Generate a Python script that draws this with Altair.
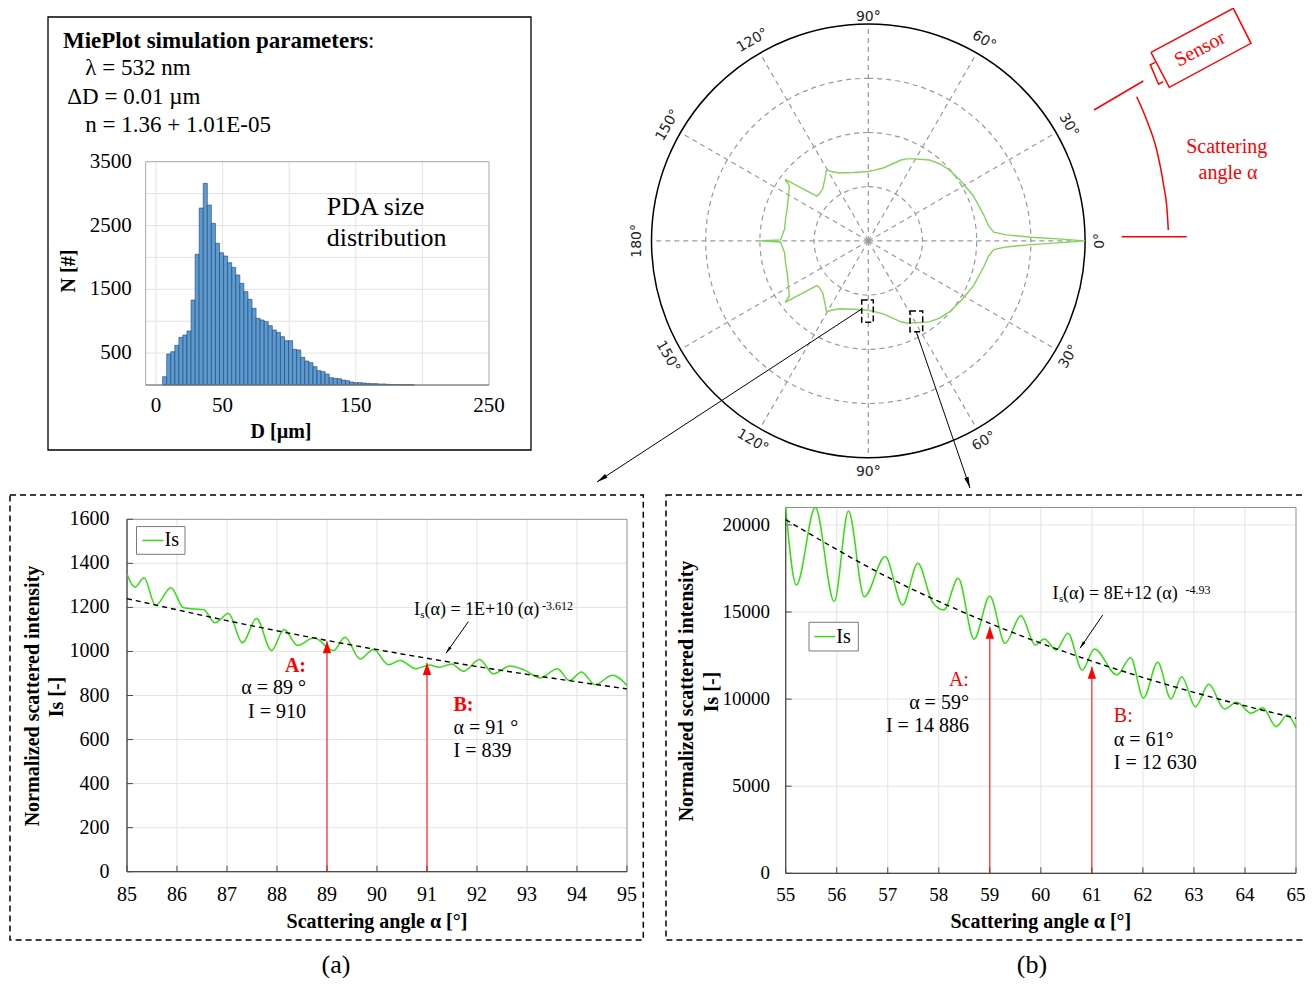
import math
import altair as alt
import pandas as pd

# ------------------------------------------------------------------ data
# PDA size distribution (counts per bin)
hist_counts = [130, 486, 522, 622, 747, 784, 846, 1332, 2048, 2774, 3161, 2821,
               2534, 2221, 2074, 2022, 1917, 1844, 1724, 1594, 1463, 1343, 1202,
               1045, 1019, 993, 930, 862, 825, 758, 695, 695, 559, 549, 434, 376,
               350, 287, 225, 209, 172, 115, 104, 99, 78, 68, 47, 37, 37, 31, 26,
               21, 21, 16, 16, 10, 8, 6, 5, 4, 3, 2]
hist_first_edge = 5.0
hist_bin_width = 3.05
hist_ygrid = [500, 1000, 1500, 2000, 2500, 3000]
hist_ylabels = [500, 1500, 2500, 3500]
hist_xgrid = [0, 50, 100, 150, 200]
hist_xlabels = [0, 50, 150, 250]

# polar scattering diagram, upper half (angle in deg, radius in ring units)
polar_angle = [0, 0.6, 1.3, 2.5, 4, 7, 13, 23, 32, 41, 47, 53, 61, 65, 68, 78, 85,
               90, 102, 113, 118, 120.5, 124, 131, 136, 139, 143.5, 145, 150, 157,
               165, 172, 179.3, 180]
polar_r = [4.0, 3.5, 3.0, 2.55, 2.32, 2.24, 2.18, 2.11, 2.04, 1.99, 1.94, 1.87,
           1.73, 1.67, 1.61, 1.38, 1.31, 1.28, 1.29, 1.36, 1.45, 1.52, 1.42, 1.28,
           1.25, 1.26, 1.91, 1.78, 1.70, 1.62, 1.58, 1.56, 1.62, 2.0]
polar_rings = [1, 2, 3]
polar_spokes = [0, 30, 60, 90, 120, 150, 180, 210, 240, 270, 300, 330]
polar_label_angle = [0, 30, 60, 90, 120, 150, 180, -150, -120, -90, -60, -30]
polar_label_text = ["0°", "30°", "60°", "90°", "120°", "150°", "180°",
                    "150°", "120°", "90°", "60°", "30°"]

# panel (a): 85..95 deg
a_alpha = [85.00, 85.16, 85.34, 85.57, 85.88, 86.13, 86.35, 86.53, 86.76, 87.03,
           87.31, 87.59, 87.89, 88.14, 88.41, 88.74, 89.13, 89.36, 89.66, 89.93,
           90.23, 90.46, 90.78, 91.05, 91.25, 91.49, 91.73, 92.05, 92.33, 92.66,
           92.95, 93.26, 93.61, 93.85, 94.09, 94.36, 94.71, 95.00]
a_Is = [1350, 1292, 1335, 1209, 1289, 1198, 1193, 1190, 1130, 1172, 1039, 1150,
        1004, 1100, 1027, 1062, 1004, 1065, 966, 1009, 940, 959, 922, 938, 928,
        943, 910, 963, 898, 934, 915, 880, 922, 868, 907, 849, 892, 846]
a_fit_alpha = [85, 87, 89, 91, 93, 95]
a_fit_Is = [1240, 1140, 1050, 969, 896, 830]
a_points = [89, 91]
a_point_tip = [1046, 948]

# panel (b): 55..65 deg
b_alpha = [55.00, 55.21, 55.58, 55.95, 56.23, 56.54, 56.95, 57.29, 57.59, 57.87,
           58.10, 58.38, 58.69, 59.00, 59.30, 59.61, 59.89, 60.07, 60.30, 60.53,
           60.81, 61.05, 61.49, 61.76, 62.01, 62.29, 62.55, 62.76, 63.03, 63.29,
           63.60, 63.84, 64.12, 64.35, 64.61, 64.83, 65.00]
b_Is = [21000, 16550, 21600, 15600, 20800, 15880, 18180, 15400, 17800, 15600,
        15120, 16940, 13440, 15900, 13200, 14790, 13110, 13450, 12820, 13780,
        11670, 12880, 11390, 12380, 10050, 12120, 10010, 11290, 9565, 10850,
        9430, 9820, 9190, 9510, 8420, 9090, 8360]
b_fit_alpha = [55, 57, 59, 61, 63, 65]
b_fit_Is = [20300, 17000, 14350, 12180, 10390, 8900]
b_points = [59, 61]
b_point_tip = [14160, 11862]

# ------------------------------------------------------------------ helpers
SERIF = "Liberation Serif"
SANS = "DejaVu Sans"
GRID = "#e3e3e3"
RED = "#ff0000"
GREEN = "#33dd11"
PGREEN = "#84d25a"
AXC = "#4a4a4a"
OFF = 8
W, H = 1297, 970


def S(domain, rng, clamp=False):
    kw = dict(domain=domain, range=rng, nice=False, zero=False)
    if clamp:
        kw["clamp"] = True
    return alt.Scale(**kw)


FR = {
    "page": ([0, 1313], [-OFF, 1313 - OFF], [0, 986], [-OFF, 986 - OFF]),
    "hist": ([-7.7, 250], [145.7 - OFF, 489 - OFF], [0, 3500], [385 - OFF, 161.7 - OFF]),
    "pa": ([85, 95], [127 - OFF, 627 - OFF], [0, 1600], [871.7 - OFF, 519.3 - OFF]),
    "pb": ([55, 65], [785.7 - OFF, 1296 - OFF], [0, 21000], [873.3 - OFF, 507.5 - OFF]),
    "polar": ([-4, 4], [651.5 - OFF, 1085.1 - OFF], [-4, 4], [457.7 - OFF, 24.1 - OFF]),
}


def enc(fr, x="x", y="y", x2=None, y2=None, clamp=False):
    xd, xr, yd, yr = FR[fr]
    e = {"x": alt.X(f"{x}:Q", scale=S(xd, xr), axis=None),
         "y": alt.Y(f"{y}:Q", scale=S(yd, yr, clamp), axis=None)}
    if x2:
        e["x2"] = alt.X2(f"{x2}:Q")
    if y2:
        e["y2"] = alt.Y2(f"{y2}:Q")
    return e


def txt(fr, xs, ys, ts, **mk):
    d = pd.DataFrame({"x": xs, "y": ys, "t": ts})
    mk.setdefault("baseline", "middle")
    return alt.Chart(d).mark_text(**mk).encode(text="t:N", **enc(fr))


def box(fr, x, y, x2, y2, **mk):
    d = pd.DataFrame([dict(x=x, y=y, x2=x2, y2=y2)])
    return alt.Chart(d).mark_rect(**mk).encode(**enc(fr, x2="x2", y2="y2"))


def segs(fr, rows, **mk):
    d = pd.DataFrame(rows, columns=["x", "y", "x2", "y2"])
    return alt.Chart(d).mark_rule(**mk).encode(**enc(fr, x2="x2", y2="y2"))


HEAD = "M0,0L0.45,2.2L-0.45,2.2Z"
TRI = "M0,0L0.7,2L-0.7,2Z"


def arrow(x0, y0, x1, y1, size, color="black", width=1.0):
    rot = (math.degrees(math.atan2(x1 - x0, -(y1 - y0))) + 360) % 360
    line = segs("page", [(x0, y0, x1, y1)], color=color, strokeWidth=width)
    d = pd.DataFrame([dict(x=x1, y=y1, rot=rot)])
    head = alt.Chart(d).mark_point(shape=HEAD, filled=True, color=color, size=size,
                                   opacity=1).encode(
        angle=alt.Angle("rot:Q", scale=None), **enc("page"))
    return [line, head]


L = []

# ------------------------------------------------------------------ top-left box
L.append(box("page", 48, 17, 531, 450, fillOpacity=0, stroke="black", strokeWidth=1.3))
L.append(txt("page", [63], [47.7], ["MiePlot simulation parameters"], align="left",
             baseline="alphabetic", font=SERIF, fontSize=23, fontWeight="bold"))
L.append(txt("page", [368, 85.3, 67.3, 85.3], [47.7, 75.3, 104.3, 132],
             [":", "λ = 532 nm", "ΔD = 0.01 µm", "n = 1.36 + 1.01E-05"],
             align="left", baseline="alphabetic", font=SERIF, fontSize=23))

# histogram
hx0, hx1 = FR["hist"][0]
L.append(segs("hist", [(hx0, v, hx1, v) for v in hist_ygrid], color=GRID, strokeWidth=1))
L.append(segs("hist", [(v, 0, v, 3500) for v in hist_xgrid], color=GRID, strokeWidth=1))
L.append(box("hist", hx0, 0, hx1, 3500, fillOpacity=0, stroke="#a8a8a8", strokeWidth=1))
bars = pd.DataFrame({
    "x": [hist_first_edge + i * hist_bin_width for i in range(len(hist_counts))],
    "x2": [hist_first_edge + (i + 1) * hist_bin_width for i in range(len(hist_counts))],
    "y": [0] * len(hist_counts),
    "y2": hist_counts,
})
L.append(alt.Chart(bars).mark_rect(fill="#5b9bd5", stroke="#23415c", strokeWidth=0.6)
         .encode(**enc("hist", x2="x2", y2="y2")))
L.append(segs("hist", [(hx0, 0, hx1, 0)], color="#777777", strokeWidth=1))
L.append(txt("hist", [hx0] * 4, hist_ylabels, [str(v) for v in hist_ylabels],
             align="right", dx=-14, font=SERIF, fontSize=21))
L.append(txt("hist", hist_xlabels, [0] * 4, [str(v) for v in hist_xlabels],
             align="center", dy=21, font=SERIF, fontSize=21))
L.append(txt("page", [69], [271], ["N [#]"], align="center", angle=270, font=SERIF,
             fontSize=20, fontWeight="bold"))
L.append(txt("page", [281], [432], ["D [µm]"], align="center", font=SERIF,
             fontSize=20, fontWeight="bold"))
L.append(txt("page", [326.7, 326.7], [206.7, 238.3], ["PDA size", "distribution"],
             align="left", font=SERIF, fontSize=26))

# ------------------------------------------------------------------ polar diagram
rscale = alt.Scale(type="linear", domain=[0, 4], range=[0, 216.8], zero=True, nice=False)
rings = pd.DataFrame({"cx": [0] * 3, "cy": [0] * 3, "r": polar_rings})
L.append(alt.Chart(rings).mark_arc(theta=0, theta2=2 * math.pi + 0.01, fillOpacity=0,
                                   stroke="#9a9a9a", strokeWidth=1.2, strokeDash=[5, 4])
         .encode(radius=alt.Radius("r:Q", scale=rscale, stack=None),
                 **enc("polar", "cx", "cy")))
spk = pd.DataFrame({"a": polar_spokes})
L.append(alt.Chart(spk).transform_calculate(
    x0="0", y0="0", x1="4*cos(datum.a*PI/180)", y1="4*sin(datum.a*PI/180)")
    .mark_rule(color="#9a9a9a", strokeWidth=1.2, strokeDash=[5, 4])
    .encode(**enc("polar", "x0", "y0", x2="x1", y2="y1")))
outer = pd.DataFrame({"cx": [0], "cy": [0], "r": [4]})
L.append(alt.Chart(outer).mark_arc(theta=0, theta2=2 * math.pi + 0.01, fillOpacity=0,
                                   stroke="black", strokeWidth=1.5)
         .encode(radius=alt.Radius("r:Q", scale=rscale, stack=None),
                 **enc("polar", "cx", "cy")))
n = len(polar_angle)
curve_rows = [(i, a, r) for i, (a, r) in enumerate(zip(polar_angle, polar_r))]
curve_rows += [(n + i, -a, r) for i, (a, r) in
               enumerate(zip(polar_angle[::-1], polar_r[::-1]))]
pc = pd.DataFrame(curve_rows, columns=["i", "a", "r"])
L.append(alt.Chart(pc).transform_calculate(
    px="datum.r*cos(datum.a*PI/180)", py="datum.r*sin(datum.a*PI/180)")
    .mark_line(color=PGREEN, strokeWidth=1.4)
    .encode(order="i:Q", **enc("polar", "px", "py")))
pl = pd.DataFrame({"a": polar_label_angle, "t": polar_label_text})
L.append(alt.Chart(pl).transform_calculate(
    lr="datum.a == 90 ? 4.14 : 4.27",
    lx="datum.lr*cos(datum.a*PI/180)", ly="datum.lr*sin(datum.a*PI/180)",
    rot="((datum.a > 0 ? 90 - datum.a : -90 - datum.a) + 360) % 360")
    .mark_text(font=SANS, fontSize=14, color="#222222", align="center", baseline="middle")
    .encode(text="t:N", angle=alt.Angle("rot:Q", scale=None), **enc("polar", "lx", "ly")))
# zoom boxes on the curve
L.append(box("page", 861.7, 300, 873.3, 322.3, fillOpacity=0, stroke="black",
             strokeWidth=1.5, strokeDash=[6, 3]))
L.append(box("page", 910, 311, 922.7, 331.7, fillOpacity=0, stroke="black",
             strokeWidth=1.5, strokeDash=[6, 3]))
L += arrow(861.7, 309, 597, 482, 100)
L += arrow(916, 331, 970, 488, 100)

# sensor sketch
sens = pd.DataFrame(
    [("a", 0, 1151, 52.3), ("a", 1, 1233.3, 8.3), ("a", 2, 1251, 43.3),
     ("a", 3, 1169.3, 87.3), ("a", 4, 1151, 52.3),
     ("b", 0, 1155, 62.3), ("b", 1, 1150.3, 64.8), ("b", 2, 1158.6, 84.2),
     ("b", 3, 1163.3, 81.7),
     ("c", 0, 1094, 110), ("c", 1, 1143.3, 81),
     ("d", 0, 1121.7, 236.7), ("d", 1, 1186.7, 236.7)],
    columns=["g", "o", "x", "y"])
L.append(alt.Chart(sens).mark_line(color=RED, strokeWidth=1.5)
         .encode(detail="g:N", order="o:Q", **enc("page")))
arcp = pd.DataFrame({"x": [1136.7, 1146.7, 1156.7, 1163.3, 1167.3, 1168.3],
                     "y": [96.7, 120, 150, 183.3, 213.3, 230]})
L.append(alt.Chart(arcp).mark_line(color=RED, strokeWidth=1.5, interpolate="monotone")
         .encode(**enc("page")))
L.append(txt("page", [1200], [49], ["Sensor"], align="center", angle=332, font=SERIF,
             fontSize=20, color=RED))
L.append(txt("page", [1226.7, 1228], [147, 173.3], ["Scattering", "angle α"],
             align="center", font=SERIF, fontSize=20, color=RED))


# ------------------------------------------------------------------ panels
def panel(fr, xlo, xhi, ytop, ygrid, yvals, lab_size, xlab_dy, ylab_dx,
          c_x, c_y, f_x, f_y, clamp=False):
    out = []
    xt = list(range(xlo, xhi + 1))
    out.append(segs(fr, [(v, 0, v, ytop) for v in xt[1:-1]], color=GRID, strokeWidth=1))
    out.append(segs(fr, [(xlo, v, xhi, v) for v in ygrid], color=GRID, strokeWidth=1))
    out.append(box(fr, xlo, 0, xhi, ytop, fillOpacity=0, stroke="#8f8f8f", strokeWidth=1))
    out.append(segs(fr, [(xlo, 0, xlo, ytop), (xlo, 0, xhi, 0)], color=AXC, strokeWidth=1.2))
    out.append(alt.Chart(pd.DataFrame({"x": xt, "y": [0] * len(xt)}))
               .mark_rule(color=AXC, strokeWidth=1, y2Offset=-6)
               .encode(**enc(fr, y2="y")))
    out.append(alt.Chart(pd.DataFrame({"x": [xlo] * len(yvals), "y": yvals}))
               .mark_rule(color=AXC, strokeWidth=1, x2Offset=6)
               .encode(**enc(fr, x2="x")))
    out.append(txt(fr, xt, [0] * len(xt), [str(v) for v in xt], align="center",
                   dy=xlab_dy, font=SERIF, fontSize=lab_size))
    out.append(txt(fr, [xlo] * len(yvals), yvals, [str(v) for v in yvals], align="right",
                   dx=ylab_dx, font=SERIF, fontSize=lab_size))
    out.append(alt.Chart(pd.DataFrame({"x": c_x, "y": c_y}))
               .mark_line(color=GREEN, strokeWidth=1.5, interpolate="monotone")
               .encode(**enc(fr, clamp=clamp)))
    out.append(alt.Chart(pd.DataFrame({"x": f_x, "y": f_y}))
               .mark_line(color="black", strokeWidth=1.4, strokeDash=[5, 4],
                          interpolate="monotone")
               .encode(**enc(fr)))
    return out


# ---- panel (a)
L.append(box("page", 10, 495, 643.3, 940, fillOpacity=0, stroke="black", strokeWidth=1.5,
             strokeDash=[6, 4]))
L.append(box("pa", 90.66, 1133, 93.96, 1237, fill="white", strokeWidth=0))
L += panel("pa", 85, 95, 1600, [200, 400, 600, 800, 1000, 1200, 1400],
           list(range(0, 1601, 200)), 20, 23.5, -17.5,
           a_alpha, a_Is, a_fit_alpha, a_fit_Is)
L.append(segs("pa", [(a, 0, a, t) for a, t in zip(a_points, a_point_tip)],
              color=RED, strokeWidth=1))
L.append(alt.Chart(pd.DataFrame({"x": a_points, "y": a_point_tip}))
         .mark_point(shape=TRI, filled=True, color=RED, size=144, opacity=1)
         .encode(**enc("pa")))
L.append(txt("pa", [88.58], [933], ["A:"], align="right", font=SERIF, fontSize=20,
             fontWeight="bold", color=RED))
L.append(txt("pa", [88.58, 88.58], [834, 725], ["α = 89 °", "I = 910"], align="right",
             font=SERIF, fontSize=20))
L.append(txt("pa", [91.53], [758], ["B:"], align="left", font=SERIF, fontSize=20,
             fontWeight="bold", color=RED))
L.append(txt("pa", [91.53, 91.53], [652, 549], ["α = 91 °", "I = 839"], align="left",
             font=SERIF, fontSize=20))
L.append(txt("pa", [90.74], [1190], ["I"], align="left", font=SERIF, fontSize=18))
L.append(txt("pa", [90.74], [1190], ["s"], align="left", dx=6.3, dy=5, font=SERIF,
             fontSize=11))
L.append(txt("pa", [90.74], [1190], ["(α) = 1E+10 (α)"], align="left", dx=10.5,
             font=SERIF, fontSize=18))
L.append(txt("pa", [90.74], [1190], ["-3.612"], align="left", dx=128, dy=-4,
             font=SERIF, fontSize=12))
L += arrow(468.3, 621.7, 446, 653.3, 45)
L.append(box("pa", 85.19, 1441, 86.16, 1567, fill="white", stroke="#7a7a7a",
             strokeWidth=1))
L.append(segs("pa", [(85.31, 1504, 85.73, 1504)], color=GREEN, strokeWidth=1.5))
L.append(txt("pa", [85.75], [1504], ["Is"], align="left", font=SERIF, fontSize=20))
L.append(txt("pa", [90], [0], ["Scattering angle α [°]"], align="center", dy=50,
             font=SERIF, fontSize=20, fontWeight="bold"))
L.append(txt("page", [33.3, 56.7], [696, 697], ["Normalized scattered intensity", "Is [-]"],
             align="center", angle=270, font=SERIF, fontSize=20, fontWeight="bold"))

# ---- panel (b)
L.append(box("page", 666, 495, 1311.7, 940, fillOpacity=0, stroke="black", strokeWidth=1.5,
             strokeDash=[6, 4]))
L.append(box("pb", 60.14, 15346, 63.31, 16724, fill="white", strokeWidth=0))
L += panel("pb", 55, 65, 21000, [5000, 10000, 15000, 20000],
           [0, 5000, 10000, 15000, 20000], 19, 22, -15.7,
           b_alpha, b_Is, b_fit_alpha, b_fit_Is, clamp=True)
L.append(segs("pb", [(a, 0, a, t) for a, t in zip(b_points, b_point_tip)],
              color=RED, strokeWidth=1))
L.append(alt.Chart(pd.DataFrame({"x": b_points, "y": b_point_tip}))
         .mark_point(shape=TRI, filled=True, color=RED, size=144, opacity=1)
         .encode(**enc("pb")))
L.append(txt("pb", [58.59], [11098], ["A:"], align="right", font=SERIF, fontSize=20,
             color=RED))
L.append(txt("pb", [58.59, 58.59], [9760, 8475], ["α = 59°", "I = 14 886"], align="right",
             font=SERIF, fontSize=20))
L.append(txt("pb", [61.43], [9049], ["B:"], align="left", font=SERIF, fontSize=20,
             color=RED))
L.append(txt("pb", [61.43, 61.43], [7653, 6350], ["α = 61°", "I = 12 630"], align="left",
             font=SERIF, fontSize=20))
L.append(txt("pb", [60.23], [16019], ["I"], align="left", font=SERIF, fontSize=18))
L.append(txt("pb", [60.23], [16019], ["s"], align="left", dx=6.3, dy=5, font=SERIF,
             fontSize=11))
L.append(txt("pb", [60.23], [16019], ["(α) = 8E+12 (α)"], align="left", dx=10.5,
             font=SERIF, fontSize=18))
L.append(txt("pb", [60.23], [16019], ["-4.93"], align="left", dx=133, dy=-4,
             font=SERIF, fontSize=12))
L += arrow(1102.7, 615, 1080, 648.3, 45)
L.append(box("pb", 55.457, 12763, 56.423, 14411, fill="white", stroke="#7a7a7a",
             strokeWidth=1))
L.append(segs("pb", [(55.56, 13590, 55.97, 13590)], color=GREEN, strokeWidth=1.5))
L.append(txt("pb", [55.99], [13590], ["Is"], align="left", font=SERIF, fontSize=20))
L.append(txt("pb", [60], [0], ["Scattering angle α [°]"], align="center", dy=49,
             font=SERIF, fontSize=20, fontWeight="bold"))
L.append(txt("page", [686.7, 711.7], [691, 692], ["Normalized scattered intensity", "Is [-]"],
             align="center", angle=270, font=SERIF, fontSize=20, fontWeight="bold"))

# panel captions
L.append(txt("page", [336, 1032], [965, 965], ["(a)", "(b)"], align="center",
             font=SERIF, fontSize=26))

chart = (alt.layer(*L)
         .resolve_scale(x="independent", y="independent", radius="independent")
         .properties(width=W, height=H, padding=0,
                     autosize=alt.AutoSizeParams(type="none"))
         .configure_view(strokeWidth=0))

chart.save("out.html", embed_options={"renderer": "svg", "actions": False})
